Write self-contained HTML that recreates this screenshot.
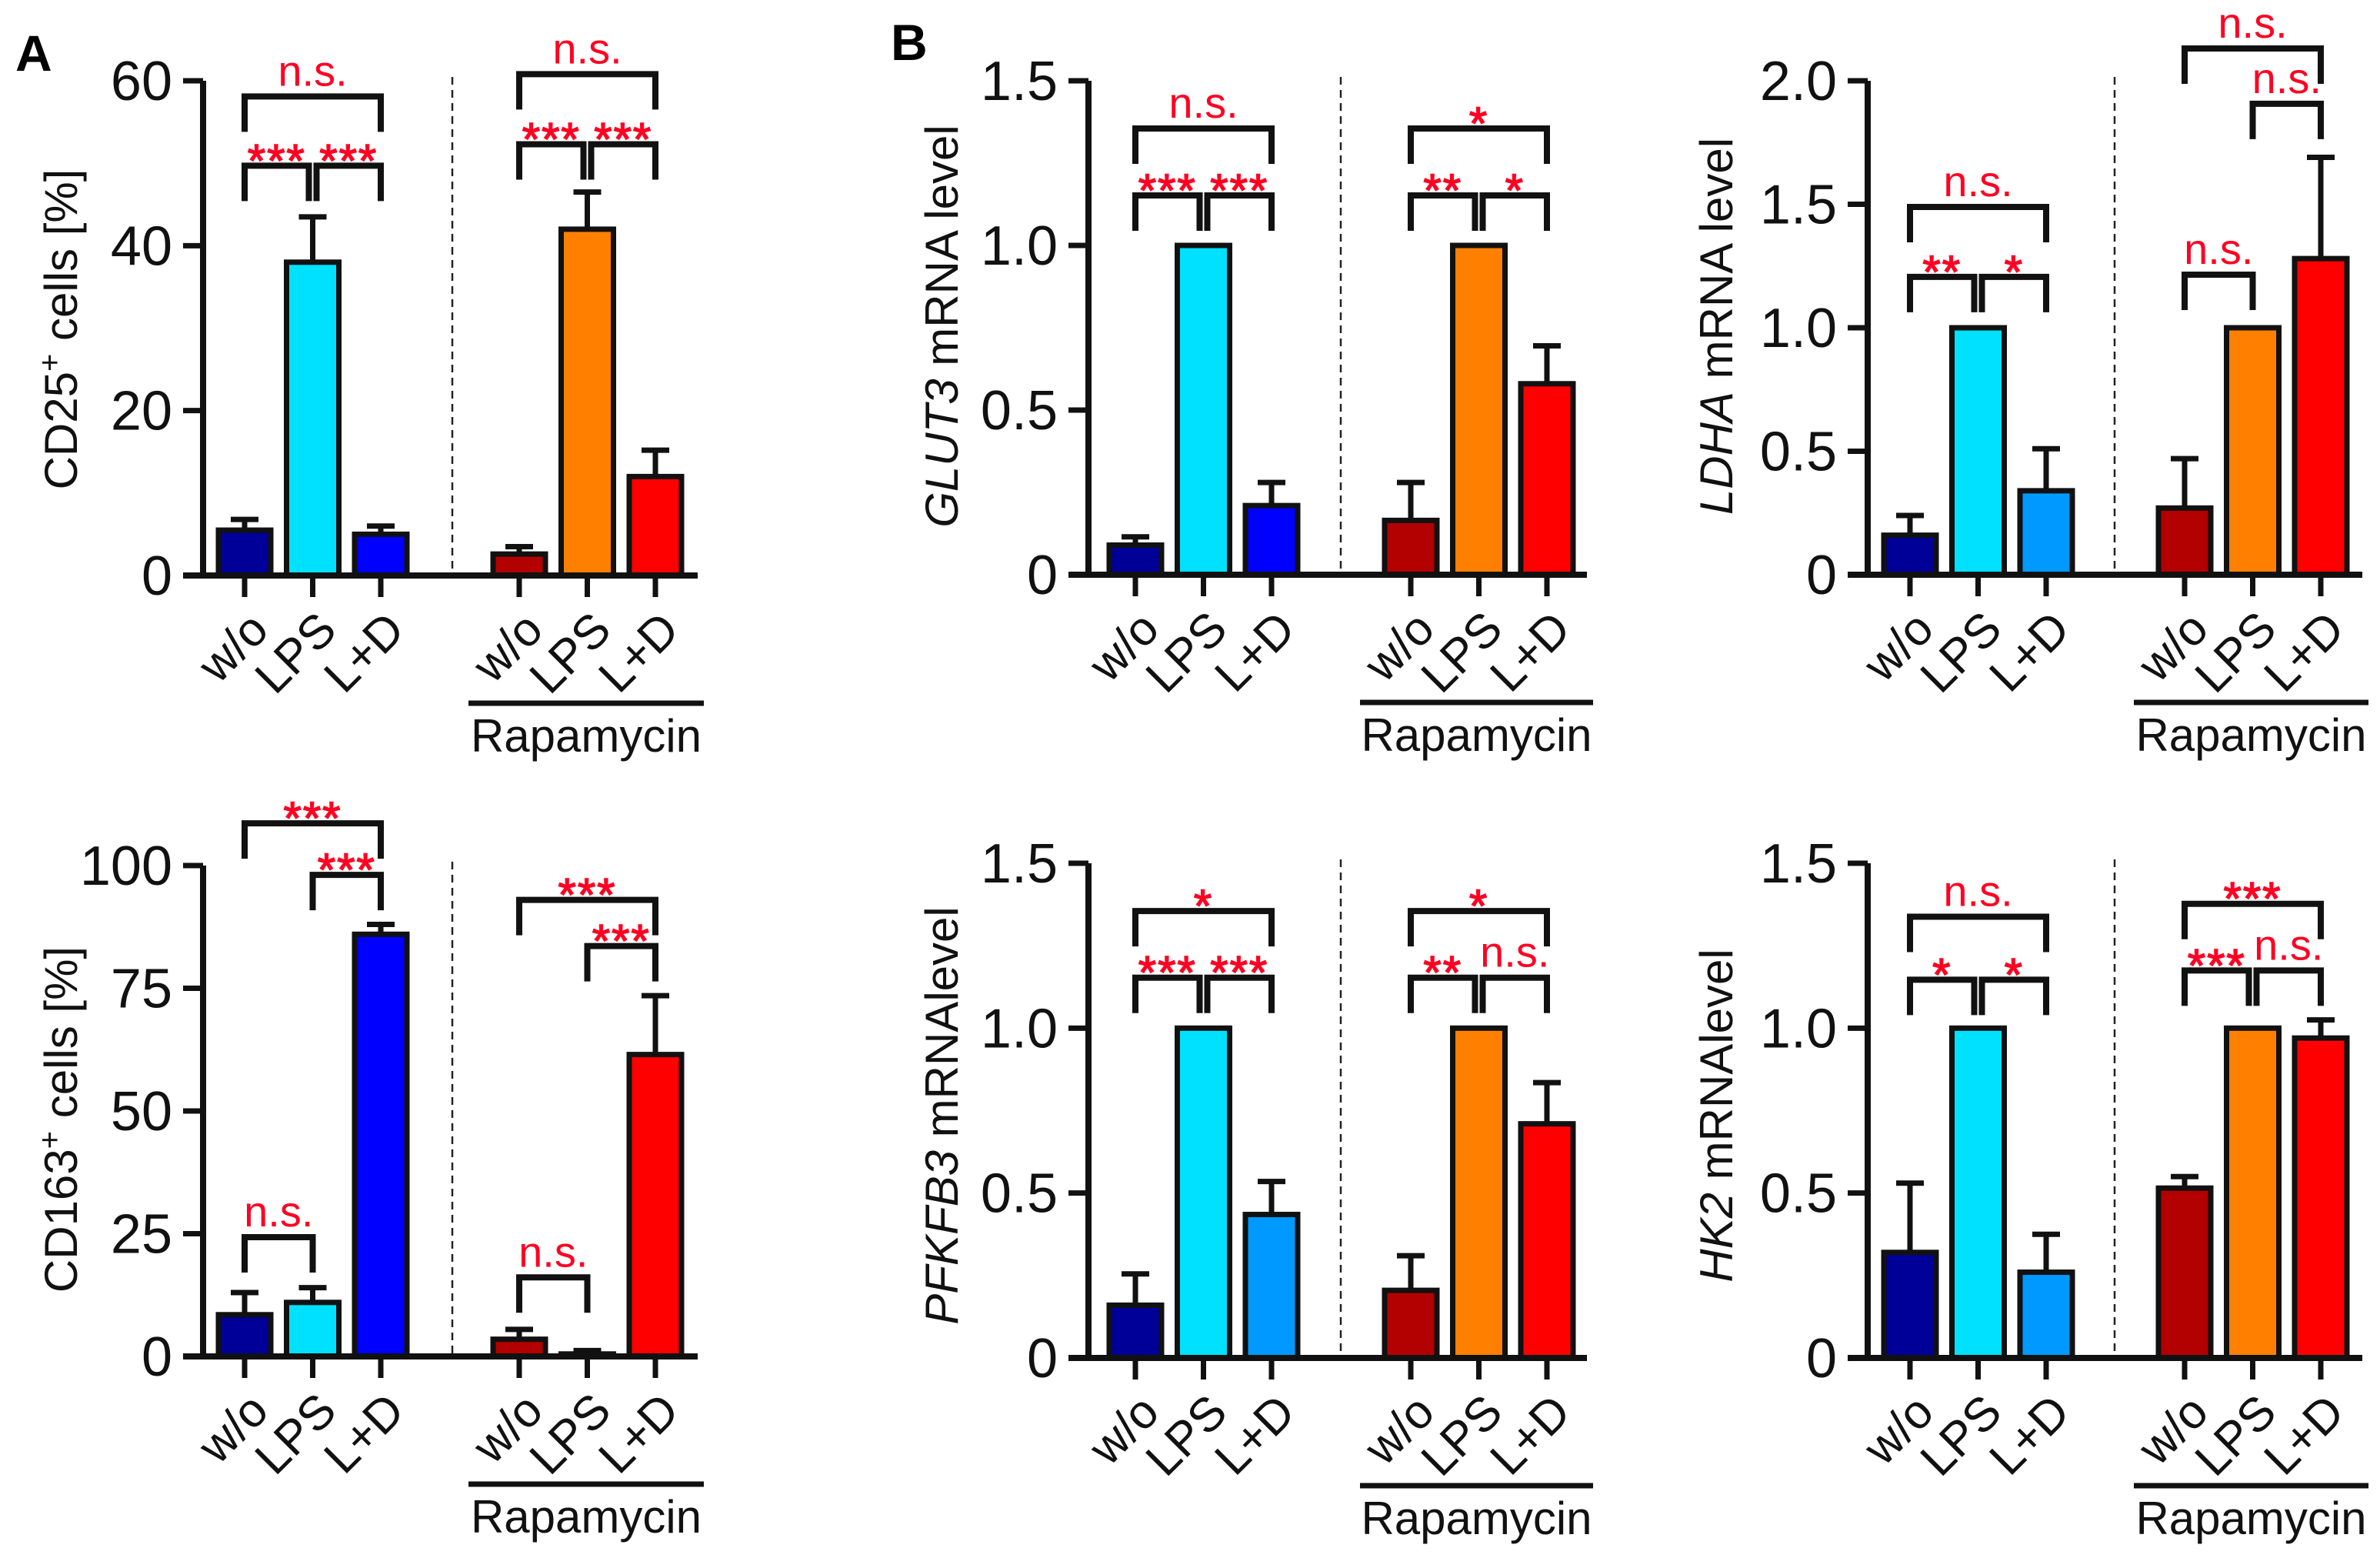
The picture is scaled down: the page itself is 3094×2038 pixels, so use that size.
<!DOCTYPE html>
<html><head><meta charset="utf-8">
<style>
html,body{margin:0;padding:0;background:#fff;}
svg{display:block;font-family:"Liberation Sans",Arial,sans-serif;}
</style></head>
<body>
<svg id="fig" width="3094" height="2038" viewBox="0 0 3094 2038" xmlns="http://www.w3.org/2000/svg">
<text x="20" y="92" font-size="66" font-weight="bold">A</text>
<text x="1158" y="78" font-size="66" font-weight="bold">B</text>
</svg>
<script>
const categories = ["w/o","LPS","L+D","w/o","LPS","L+D"];
const colorsBlue = ["#000099","#00e1ff","#0000ff"];
const colorsBlue2 = ["#000099","#00e1ff","#0099ff"];
const colorsRed = ["#b30000","#ff8000","#ff0000"];

const cd25Values = [5.5, 38, 5, 2.6, 42, 12];
const cd25Errors = [6.8, 43.5, 6, 3.5, 46.5, 15.2];
const cd25Ticks = [0, 20, 40, 60];
const cd25TickLabels = ["0","20","40","60"];

const cd163Values = [8.5, 11, 86, 3.5, 0.5, 61.5];
const cd163Errors = [13, 14, 88, 5.5, 1.2, 73.5];
const cd163Ticks = [0, 25, 50, 75, 100];
const cd163TickLabels = ["0","25","50","75","100"];

const glut3Values = [0.09, 1.0, 0.21, 0.165, 1.0, 0.58];
const glut3Errors = [0.115, 1.0, 0.28, 0.28, 1.0, 0.695];
const ldhaValues = [0.16, 1.0, 0.34, 0.27, 1.0, 1.28];
const ldhaErrors = [0.24, 1.0, 0.51, 0.47, 1.0, 1.69];
const pfkfb3Values = [0.16, 1.0, 0.435, 0.205, 1.0, 0.71];
const pfkfb3Errors = [0.255, 1.0, 0.535, 0.31, 1.0, 0.835];
const hk2Values = [0.32, 1.0, 0.26, 0.515, 1.0, 0.97];
const hk2Errors = [0.53, 1.0, 0.375, 0.55, 1.0, 1.025];
const ticks15 = [0, 0.5, 1.0, 1.5];
const ticks15Labels = ["0","0.5","1.0","1.5"];
const ticks20 = [0, 0.5, 1.0, 1.5, 2.0];
const ticks20Labels = ["0","0.5","1.0","1.5","2.0"];

// brackets: [fromIndex, toIndex, yValue, label, mode]
const cd25Brackets = [[0,2,58.1,"n.s.","o"],[0,1,49.7,"***","l"],[1,2,49.7,"***","r"],[3,5,60.8,"n.s.","o"],[3,4,52.3,"***","l"],[4,5,52.3,"***","r"]];
const cd163Brackets = [[0,2,108.6,"***","o"],[1,2,98.1,"***","o"],[0,1,24.3,"n.s.","o"],[3,5,93.0,"***","o"],[4,5,83.6,"***","o"],[3,4,16.1,"n.s.","o"]];
const glut3Brackets = [[0,2,1.355,"n.s.","o"],[0,1,1.152,"***","l"],[1,2,1.152,"***","r"],[3,5,1.355,"*","o"],[3,4,1.152,"**","l"],[4,5,1.152,"*","r"]];
const ldhaBrackets = [[0,2,1.489,"n.s.","o"],[0,1,1.206,"**","l"],[1,2,1.206,"*","r"],[3,5,2.131,"n.s.","o"],[4,5,1.907,"n.s.","o"],[3,4,1.215,"n.s.","o"]];
const pfkfb3Brackets = [[0,2,1.355,"*","o"],[0,1,1.153,"***","l"],[1,2,1.153,"***","r"],[3,5,1.355,"*","o"],[3,4,1.153,"**","l"],[4,5,1.153,"n.s.","r"]];
const hk2Brackets = [[0,2,1.338,"n.s.","o"],[0,1,1.147,"*","l"],[1,2,1.147,"*","r"],[3,5,1.377,"***","o"],[3,4,1.175,"***","l"],[4,5,1.175,"n.s.","r"]];

const NS = "http://www.w3.org/2000/svg";
const svg = document.getElementById("fig");
function mk(tag, attrs, parent) {
  const e = document.createElementNS(NS, tag);
  for (const k in attrs) e.setAttribute(k, attrs[k]);
  (parent || svg).appendChild(e);
  return e;
}

function panel(p) {
  const g = mk("g", {});
  
  
  const yScale = v => p.y0 - (v / p.max) * (p.y0 - p.yTop);
  const step = 88.5;
  const xs = i => p.c0 + (i < 3 ? i * step : p.gap + (i - 3) * step);
  const bw = 68;
  const dash = mk("line", {x1:p.dash, x2:p.dash, y1:p.yTop - 5, y2:p.y0, stroke:"#222", "stroke-width":2.5, "stroke-dasharray":"10,7"}, g);
  
  
  for (let i = 0; i < 6; i++) {
    const v = p.values[i], e = p.errors[i], cx = xs(i);
    const col = i < 3 ? p.colorsL[i] : colorsRed[i - 3];
    if (e > v) {
      const eb = mk("path", {d:`M${cx},${yScale(v)} V${yScale(e)} M${cx-18},${yScale(e)} H${cx+18}`, stroke:"#111", "stroke-width":7, fill:"none"}, g);
      
      
    }
    const r = mk("rect", {x:cx - bw/2, y:yScale(v), width:bw, height:Math.max(0, p.y0 - yScale(v)), fill:col, stroke:"#111", "stroke-width":7}, g);
    
    
    const tk = mk("line", {x1:cx, x2:cx, y1:p.y0, y2:p.y0 + 28, stroke:"#111", "stroke-width":7}, g);
    
    
    const lx = cx + 34, ly = p.y0 + 74;
    const t = mk("text", {x:lx, y:ly, "font-size":62, "text-anchor":"end", transform:`rotate(-45 ${lx} ${ly})`, fill:"#111"}, g);
    t.textContent = categories[i];
    
    
  }
  const ax = mk("path", {d:`M${p.axisX},${p.yTop} V${p.y0} M${p.axisX - 26},${p.y0} H${p.xEnd}`, stroke:"#111", "stroke-width":8, fill:"none"}, g);
  
  
  p.ticks.forEach((tv, k) => {
    const y = yScale(tv);
    const tl = mk("line", {x1:p.axisX - 26, x2:p.axisX, y1:y, y2:y, stroke:"#111", "stroke-width":7}, g);
    
    
    const tt = mk("text", {x:p.axisX - 40, y:y + 25, "font-size":72, "text-anchor":"end", fill:"#111"}, g);
    tt.textContent = p.tickLabels[k];
    
    
  });
  const yt = mk("text", {x:p.titleX, y:p.titleY, "font-size":60, "text-anchor":"middle", transform:`rotate(-90 ${p.titleX} ${p.titleY})`, fill:"#111"}, g);
  yt.innerHTML = p.title;
  
  
  const gx1 = xs(3) - 66, gx2 = p.xEnd + 8, gy = p.y0 + 166;
  const gl = mk("line", {x1:gx1, x2:gx2, y1:gy, y2:gy, stroke:"#111", "stroke-width":7}, g);
  
  
  const gt = mk("text", {x:(gx1 + gx2) / 2, y:gy + 63, "font-size":60, "text-anchor":"middle", fill:"#111"}, g);
  gt.textContent = "Rapamycin";
  
  
  p.brackets.forEach(b => {
    let x1 = xs(b[0]), x2 = xs(b[1]);
    if (b[4] === "l") x2 -= 5;
    if (b[4] === "r") x1 += 5;
    const y = yScale(b[2]);
    const bp = mk("path", {d:`M${x1},${y + 46} V${y} H${x2} V${y + 46}`, stroke:"#111", "stroke-width":8, fill:"none"}, g);
    
    
    const star = b[3].indexOf("*") >= 0;
    const attrs = star
      ? {x:(x1 + x2) / 2, y:y + 14, "font-size":60, "letter-spacing":2, stroke:"#ff0022", "stroke-width":1.5, "text-anchor":"middle", fill:"#ff0022"}
      : {x:(x1 + x2) / 2, y:y - 14, "font-size":56, "text-anchor":"middle", fill:"#ff0022"};
    const bt = mk("text", attrs, g);
    bt.textContent = b[3];
    
    
  });
}

panel({name:"panel-cd25", values:cd25Values, errors:cd25Errors, ticks:cd25Ticks, tickLabels:cd25TickLabels, max:60, y0:748, yTop:105, axisX:264, xEnd:907, c0:318, gap:357, dash:588, colorsL:colorsBlue, brackets:cd25Brackets, title:'CD25<tspan baseline-shift="super" font-size="40">+</tspan> cells [%]', titleX:100, titleY:428});
panel({name:"panel-cd163", values:cd163Values, errors:cd163Errors, ticks:cd163Ticks, tickLabels:cd163TickLabels, max:100, y0:1763, yTop:1125, axisX:264, xEnd:907, c0:318, gap:357, dash:588, colorsL:colorsBlue, brackets:cd163Brackets, title:'CD163<tspan baseline-shift="super" font-size="40">+</tspan> cells [%]', titleX:100, titleY:1455});
panel({name:"panel-glut3", values:glut3Values, errors:glut3Errors, ticks:ticks15, tickLabels:ticks15Labels, max:1.5, y0:747, yTop:105, axisX:1415, xEnd:2063, c0:1476, gap:358, dash:1743, colorsL:colorsBlue, brackets:glut3Brackets, title:'<tspan font-style="italic">GLUT3</tspan> mRNA level', titleX:1245, titleY:424});
panel({name:"panel-ldha", values:ldhaValues, errors:ldhaErrors, ticks:ticks20, tickLabels:ticks20Labels, max:2.0, y0:747, yTop:105, axisX:2428, xEnd:3071, c0:2483, gap:357, dash:2749, colorsL:colorsBlue2, brackets:ldhaBrackets, title:'<tspan font-style="italic">LDHA</tspan> mRNA level', titleX:2252, titleY:424});
panel({name:"panel-pfkfb3", values:pfkfb3Values, errors:pfkfb3Errors, ticks:ticks15, tickLabels:ticks15Labels, max:1.5, y0:1765, yTop:1122, axisX:1415, xEnd:2063, c0:1476, gap:358, dash:1743, colorsL:colorsBlue2, brackets:pfkfb3Brackets, title:'<tspan font-style="italic">PFKFB3</tspan> mRNAlevel', titleX:1245, titleY:1450});
panel({name:"panel-hk2", values:hk2Values, errors:hk2Errors, ticks:ticks15, tickLabels:ticks15Labels, max:1.5, y0:1765, yTop:1122, axisX:2428, xEnd:3071, c0:2483, gap:357, dash:2749, colorsL:colorsBlue2, brackets:hk2Brackets, title:'<tspan font-style="italic">HK2</tspan> mRNAlevel', titleX:2252, titleY:1450});
</script>
</body></html>
